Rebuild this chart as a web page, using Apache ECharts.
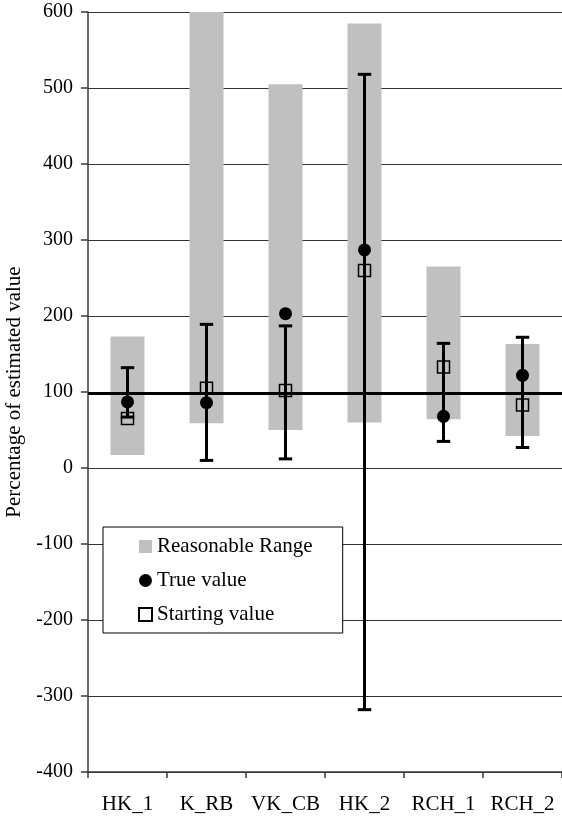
<!DOCTYPE html>
<html>
<head>
<meta charset="utf-8">
<script src="https://cdn.jsdelivr.net/npm/echarts@6/dist/echarts.min.js"></script>
<style>
  html, body { margin: 0; padding: 0; background: #fff; }
  #chart { width: 562px; height: 816px; }
</style>
</head>
<body>
<div id="chart"></div>
<script>
// Parameters compared against their estimated values (percent of estimate)
const categories = ['HK_1', 'K_RB', 'VK_CB', 'HK_2', 'RCH_1', 'RCH_2'];
const rangeLow   = [17, 59, 50, 60, 64, 42];
const rangeHigh  = [173, 650, 505, 585, 265, 163];
const trueValue  = [87, 86, 203, 287, 68, 122];
const startValue = [65, 105, 102, 260, 133, 83];
const errLow     = [67, 10, 12, -318, 35, 27];
const errHigh    = [132, 189, 187, 518, 164, 172];
const yTicks = { min: -400, max: 600, step: 100 };
const referenceLevel = 99;

const FONT = 'Liberation Serif';

const rangeData = categories.map((c, i) => [i, rangeLow[i], rangeHigh[i]]);
const errData = categories.map((c, i) => [i, errLow[i], errHigh[i]]);

const chart = echarts.init(document.getElementById('chart'), null, { renderer: 'canvas' });

chart.setOption({
  animation: false,
  backgroundColor: '#fff',
  grid: { left: 88, right: 0, top: 12, bottom: 44, containLabel: false, outerBoundsMode: 'none' },
  xAxis: {
    type: 'category',
    data: categories,
    boundaryGap: true,
    axisLine: { show: true, onZero: false, lineStyle: { color: '#3a3a3a', width: 1.5 } },
    axisTick: { show: true, length: 6, interval: 0, lineStyle: { color: '#3a3a3a', width: 1.5 } },
    axisLabel: { color: '#000', fontFamily: FONT, fontSize: 21, margin: 22, interval: 0 },
    splitLine: { show: false }
  },
  yAxis: {
    type: 'value',
    min: yTicks.min,
    max: yTicks.max,
    interval: yTicks.step,
    name: 'Percentage of estimated value',
    nameLocation: 'middle',
    nameGap: 60,
    nameTextStyle: { color: '#000', fontFamily: FONT, fontSize: 21 },
    axisLine: { show: true, onZero: false, lineStyle: { color: '#3a3a3a', width: 1.5 } },
    axisTick: { show: true, length: 7, lineStyle: { color: '#3a3a3a', width: 1.5 } },
    axisLabel: { color: '#000', fontFamily: FONT, fontSize: 20, margin: 15 },
    splitLine: { show: true, lineStyle: { color: '#333', width: 1 } }
  },
  legend: {
    orient: 'vertical',
    left: 103,
    top: 527,
    data: [
      { name: 'Reasonable Range', icon: 'rect' },
      { name: 'True value', icon: 'circle' },
      { name: 'Starting value', icon: 'rect' }
    ],
    itemWidth: 13,
    itemHeight: 13,
    itemGap: 13,
    padding: [9, 30, 8, 35],
    borderColor: '#000',
    borderWidth: 1,
    borderRadius: 0,
    backgroundColor: '#fff',
    selectedMode: false,
    textStyle: { color: '#000', fontFamily: FONT, fontSize: 21, lineHeight: 20 }
  },
  series: [
    {
      name: 'Reasonable Range',
      type: 'custom',
      clip: true,
      itemStyle: { color: '#c0c0c0' },
      data: rangeData,
      encode: { x: 0, y: [1, 2] },
      renderItem: function (params, api) {
        const lo = api.coord([api.value(0), api.value(1)]);
        const hi = api.coord([api.value(0), api.value(2)]);
        const w = api.size([1, 0])[0] * 0.43;
        return {
          type: 'rect',
          shape: { x: lo[0] - w / 2, y: hi[1], width: w, height: lo[1] - hi[1] },
          style: { fill: '#c0c0c0' }
        };
      },
      markLine: {
        silent: true,
        symbol: 'none',
        label: { show: false },
        lineStyle: { color: '#000', width: 3, type: 'solid' },
        data: [{ yAxis: referenceLevel }],
        z: 5
      },
      z: 2
    },
    {
      name: 'Error',
      type: 'custom',
      clip: true,
      data: errData,
      encode: { x: 0, y: [1, 2] },
      renderItem: function (params, api) {
        const lo = api.coord([api.value(0), api.value(1)]);
        const hi = api.coord([api.value(0), api.value(2)]);
        const half = api.size([1, 0])[0] * 0.085;
        const st = { stroke: '#000', lineWidth: 3 };
        return {
          type: 'group',
          children: [
            { type: 'line', shape: { x1: lo[0], y1: lo[1], x2: hi[0], y2: hi[1] }, style: st },
            { type: 'line', shape: { x1: lo[0] - half, y1: lo[1], x2: lo[0] + half, y2: lo[1] }, style: st },
            { type: 'line', shape: { x1: hi[0] - half, y1: hi[1], x2: hi[0] + half, y2: hi[1] }, style: st }
          ]
        };
      },
      z: 3
    },
    {
      name: 'True value',
      type: 'scatter',
      symbol: 'circle',
      symbolSize: 13,
      itemStyle: { color: '#000', opacity: 1 },
      data: trueValue,
      z: 6
    },
    {
      name: 'Starting value',
      type: 'scatter',
      symbol: 'rect',
      symbolSize: 12,
      itemStyle: { color: 'rgba(255,255,255,0)', borderColor: '#000', borderWidth: 1.5, opacity: 1 },
      data: startValue,
      z: 6
    }
  ]
});
</script>
</body>
</html>
